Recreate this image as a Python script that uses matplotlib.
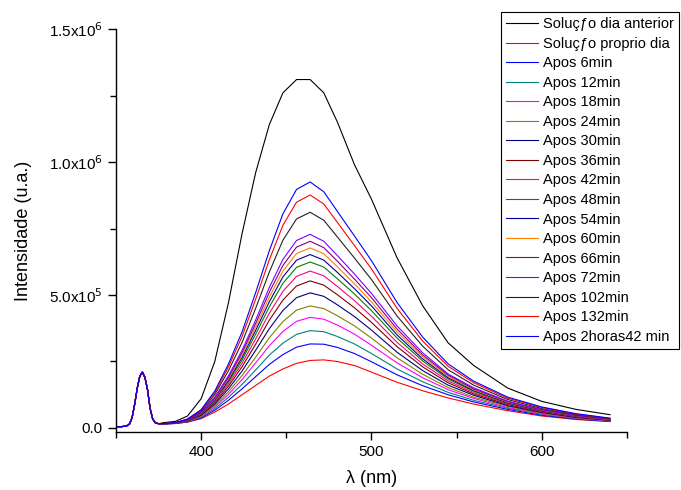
import matplotlib
matplotlib.use("Agg")
import matplotlib.pyplot as plt
import numpy as np
from matplotlib.ticker import FixedLocator, FuncFormatter

plt.rcParams["font.family"] = ["Liberation Sans", "DejaVu Sans"]

# excitation (scatter) peak, common to every spectrum, intensity in 1e4 counts
ex_wl = [350, 353, 356, 358, 359.5, 361, 362.5, 364, 365.5, 367, 368.5, 370, 371.5, 373, 375]
ex_val = [0.5, 0.5, 0.7, 1.5, 4, 9, 15, 19.5, 21, 19, 14.5, 7.5, 3.5, 2.0, 1.6]

# emission band, intensity in 1e4 counts
em_wl = [378, 385, 392, 400, 408, 416, 424, 432, 440, 448, 456, 464,
         472, 480, 490, 500, 515, 530, 545, 560, 580, 600, 620, 640]

dia_anterior = [2.0, 2.5, 4.5, 11, 25, 47, 73, 96, 114, 126, 131, 131,
                126, 115, 99, 86, 64, 46, 32, 23.5, 15, 10, 7, 5]
proprio_dia = [1.5, 1.7, 2.2, 3.5, 6.0, 9.0, 12.5, 16.0, 19.5, 22.2, 24.3, 25.4,
               25.6, 25.0, 23.5, 21.0, 17.2, 14.0, 11.3, 9.0, 6.5, 4.5, 3.2, 2.4]
apos_6 = [1.5, 1.7, 2.3, 3.8, 6.7, 10.4, 14.7, 19.3, 23.9, 27.6, 30.4, 31.6,
          31.5, 30.3, 28.0, 24.9, 20.0, 15.9, 12.5, 9.8, 7.0, 4.8, 3.4, 2.5]
apos_12 = [1.5, 1.8, 2.4, 4.1, 7.3, 11.5, 16.4, 21.8, 27.4, 31.9, 35.2, 36.6,
           36.2, 34.4, 31.6, 28.0, 22.2, 17.4, 13.4, 10.4, 7.4, 5.1, 3.6, 2.6]
apos_18 = [1.6, 1.8, 2.5, 4.3, 7.9, 12.6, 18.2, 24.5, 30.9, 36.3, 40.1, 41.6,
           40.9, 38.7, 35.3, 31.1, 24.5, 18.9, 14.4, 11.1, 7.7, 5.3, 3.7, 2.7]
apos_24 = [1.6, 1.8, 2.6, 4.5, 8.4, 13.6, 19.7, 26.6, 33.9, 40.0, 44.3, 45.9,
           44.9, 42.2, 38.4, 33.8, 26.4, 20.2, 15.2, 11.6, 8.1, 5.5, 3.9, 2.8]
apos_30 = [1.6, 1.8, 2.7, 4.8, 9.0, 14.7, 21.4, 29.2, 37.3, 44.2, 49.0, 50.8,
           49.5, 46.3, 41.9, 36.8, 28.5, 21.6, 16.1, 12.3, 8.4, 5.8, 4.0, 2.9]
apos_36 = [1.6, 1.8, 2.7, 5.0, 9.5, 15.7, 23.0, 31.5, 40.5, 48.1, 53.4, 55.3,
           53.7, 50.1, 45.2, 39.7, 30.6, 23.0, 17.0, 12.8, 8.8, 6.0, 4.2, 3.0]
apos_42 = [1.6, 1.9, 2.8, 5.2, 10.0, 16.5, 24.3, 33.5, 43.1, 51.4, 57.0, 59.0,
           57.2, 53.2, 47.9, 42.0, 32.2, 24.1, 17.7, 13.3, 9.1, 6.2, 4.3, 3.1]
apos_48 = [1.6, 1.9, 2.9, 5.4, 10.4, 17.3, 25.5, 35.3, 45.5, 54.4, 60.4, 62.4,
           60.5, 56.1, 50.4, 44.1, 33.8, 25.2, 18.4, 13.8, 9.3, 6.4, 4.4, 3.1]
apos_54 = [1.6, 1.9, 2.9, 5.5, 10.7, 17.9, 26.5, 36.7, 47.4, 56.8, 63.1, 65.2,
           63.1, 58.5, 52.4, 45.9, 35.0, 26.0, 18.9, 14.1, 9.5, 6.5, 4.5, 3.2]
apos_60 = [1.6, 1.9, 3.0, 5.7, 11.0, 18.5, 27.4, 38.0, 49.2, 59.0, 65.6, 67.7,
           65.5, 60.6, 54.2, 47.4, 36.1, 26.8, 19.4, 14.4, 9.7, 6.7, 4.6, 3.2]
apos_66 = [1.6, 1.9, 3.0, 5.8, 11.3, 19.0, 28.3, 39.3, 51.0, 61.1, 68.0, 70.2,
           67.8, 62.7, 56.0, 49.0, 37.2, 27.5, 19.9, 14.7, 9.9, 6.8, 4.7, 3.3]
apos_72 = [1.6, 1.9, 3.1, 5.9, 11.6, 19.6, 29.2, 40.6, 52.8, 63.4, 70.5, 72.8,
           70.2, 64.8, 57.9, 50.6, 38.4, 28.3, 20.3, 15.1, 10.1, 6.9, 4.8, 3.3]
apos_102 = [1.7, 2.0, 3.2, 6.3, 12.6, 21.5, 32.1, 45.0, 58.6, 70.6, 78.6, 81.1,
            78.1, 71.8, 63.9, 55.8, 42.1, 30.8, 21.9, 16.1, 10.7, 7.3, 5.0, 3.5]
apos_132 = [1.7, 2.0, 3.3, 6.7, 13.3, 22.9, 34.4, 48.4, 63.2, 76.2, 84.9, 87.6,
            84.2, 77.3, 68.6, 59.8, 45.0, 32.7, 23.2, 17.0, 11.2, 7.7, 5.2, 3.6]
apos_162 = [1.7, 2.0, 3.4, 6.9, 13.9, 24.0, 36.1, 50.9, 66.6, 80.5, 89.7, 92.5,
            88.8, 81.4, 72.2, 62.9, 47.2, 34.2, 24.1, 17.6, 11.6, 7.9, 5.4, 3.7]

labels = [
    "Soluçƒo dia anterior", "Soluçƒo proprio dia", "Apos 6min", "Apos 12min",
    "Apos 18min", "Apos 24min", "Apos 30min", "Apos 36min", "Apos 42min",
    "Apos 48min", "Apos 54min", "Apos 60min", "Apos 66min", "Apos 72min",
    "Apos 102min", "Apos 132min", "Apos 2horas42 min",
]
series = [
    dia_anterior, proprio_dia, apos_6, apos_12, apos_18, apos_24, apos_30,
    apos_36, apos_42, apos_48, apos_54, apos_60, apos_66, apos_72,
    apos_102, apos_132, apos_162,
]
colors = [
    "#000000", "#FF0000", "#0000FF", "#008080", "#FF00FF", "#808000",
    "#000080", "#800000", "#FF0080", "#008000", "#0000A0", "#FF8000",
    "#800080", "#8000FF", "#222222", "#FF0000", "#0000FF",
]

fig = plt.figure(figsize=(6.81, 4.90), dpi=100)
ax = fig.add_axes([0.1703, 0.1184, 0.7504, 0.8224])

wl = np.array(ex_wl + em_wl)
for lab, vals, col in zip(labels, series, colors):
    y = np.array(ex_val + vals) * 1e4
    ax.plot(wl, y, color=col, lw=0.8, label=lab)

ax.set_xlim(350, 650)
ax.set_ylim(-15000, 1.5e6)

for side in ("top", "right"):
    ax.spines[side].set_visible(False)
ax.spines["left"].set_linewidth(1.0)
ax.spines["bottom"].set_linewidth(1.0)

ax.xaxis.set_major_locator(FixedLocator([400, 500, 600]))
ax.xaxis.set_minor_locator(FixedLocator([350, 450, 550, 650]))
ax.yaxis.set_major_locator(FixedLocator([0, 5e5, 1e6, 1.5e6]))
ax.yaxis.set_minor_locator(FixedLocator([2.5e5, 7.5e5, 1.25e6]))

ytick_text = {0: "0.0", 5e5: r"5.0x10$^{5}$", 1e6: r"1.0x10$^{6}$", 1.5e6: r"1.5x10$^{6}$"}
ax.yaxis.set_major_formatter(FuncFormatter(lambda v, p: ytick_text.get(v, "")))

ax.tick_params(which="major", direction="out", length=6, width=1, labelsize=11)
ax.tick_params(which="minor", direction="out", length=4, width=1)

ax.set_xlabel("λ (nm)", fontsize=13, labelpad=8)
ax.set_ylabel("Intensidade (u.a.)", fontsize=13, labelpad=12)

leg = fig.legend(
    loc="upper right", bbox_to_anchor=(679 / 681, 1 - 12 / 490),
    fontsize=10.5, frameon=True, fancybox=False, framealpha=1,
    handlelength=2.2, handletextpad=0.35, labelspacing=0.38,
    borderpad=0.35, borderaxespad=0,
)
leg.get_frame().set_edgecolor("black")
leg.get_frame().set_linewidth(0.8)

fig.savefig("out.png", dpi=100)
